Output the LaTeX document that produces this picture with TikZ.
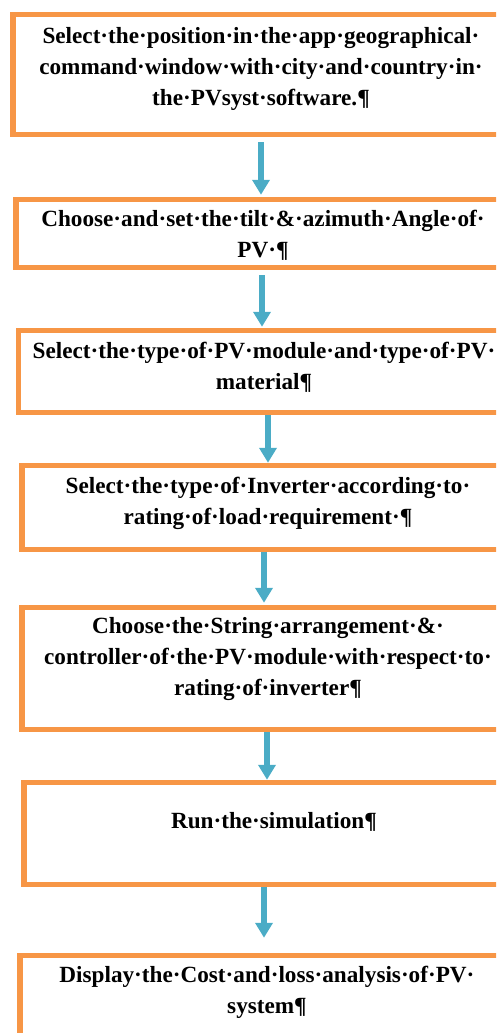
\documentclass[tikz,border=0pt]{standalone}
\usepackage{fontspec}
\setmainfont{Liberation Serif}
\usetikzlibrary{arrows.meta}
\definecolor{boxorange}{HTML}{F79646}
\definecolor{arrowblue}{HTML}{4BACC6}

\begin{document}
\begin{tikzpicture}[x=1pt, y=-1pt,
        stepbox/.style={draw=boxorange, line width=5.5pt, inner sep=0pt},
        steptext/.style={align=center, inner sep=0pt, text=black,
            font=\fontsize{23.2}{31}\selectfont\bfseries},
        flowarrow/.style={draw=arrowblue, line width=5.5pt,
            -{Triangle[width=17pt, length=15pt]}}]
        % Umgebung
            \useasboundingbox (0,0) rectangle (496,1033);
            \clip (0,0) rectangle (496,1033);

        % Kaesten
            \node[stepbox, minimum width=496, minimum height=120] (b1) at (261, 74.5) {};
            \node[stepbox, minimum width=492, minimum height=68] (b2) at (262, 233.5) {};
            \node[stepbox, minimum width=499, minimum height=82] (b3) at (268, 371.5) {};
            \node[stepbox, minimum width=484, minimum height=84] (b4) at (264, 507.5) {};
            \node[stepbox, minimum width=490, minimum height=122] (b5) at (267, 668.5) {};
            \node[stepbox, minimum width=480, minimum height=102] (b6) at (264, 833.5) {};
            \node[stepbox, minimum width=494, minimum height=80] (b7) at (267, 995.5) {};

        % Texte
            \node[steptext] (t1) at (261, 69) {Select·the·position·in·the·app·geographical·\\command·window·with·city·and·country·in·\\the·PVsyst·software.¶};
            \node[steptext] (t2) at (263, 235) {Choose·and·set·the·tilt·\&·azimuth·Angle·of·\\PV·¶};
            \node[steptext] (t3) at (264, 367) {Select·the·type·of·PV·module·and·type·of·PV·\\material¶};
            \node[steptext] (t4) at (268, 503) {Select·the·type·of·Inverter·according·to·\\rating·of·load·requirement·¶};
            \node[steptext] (t5) at (268, 659) {Choose·the·String·arrangement·\&·\\controller·of·the·PV·module·with·respect·to·\\rating·of·inverter¶};
            \node[steptext] (t6) at (274, 822) {Run·the·simulation¶};
            \node[steptext] (t7) at (267, 992) {Display·the·Cost·and·loss·analysis·of·PV·\\system¶};

        % Pfeile
            \draw[flowarrow, shorten <=5pt, shorten >=2pt] (b1.south) -- (b1.south |- b2.north);
            \draw[flowarrow, shorten <=5pt, shorten >=1pt] (b2.south) -- (b2.south |- b3.north);
            \draw[flowarrow] (b3.south) -- (b3.south |- b4.north);
            \draw[flowarrow, shorten >=2pt] (b4.south) -- (b4.south |- b5.north);
            \draw[flowarrow] (b5.south) -- (b5.south |- b6.north);
            \draw[flowarrow, shorten >=15pt] (b6.south) -- (b6.south |- b7.north);
    \end{tikzpicture}
\end{document}
